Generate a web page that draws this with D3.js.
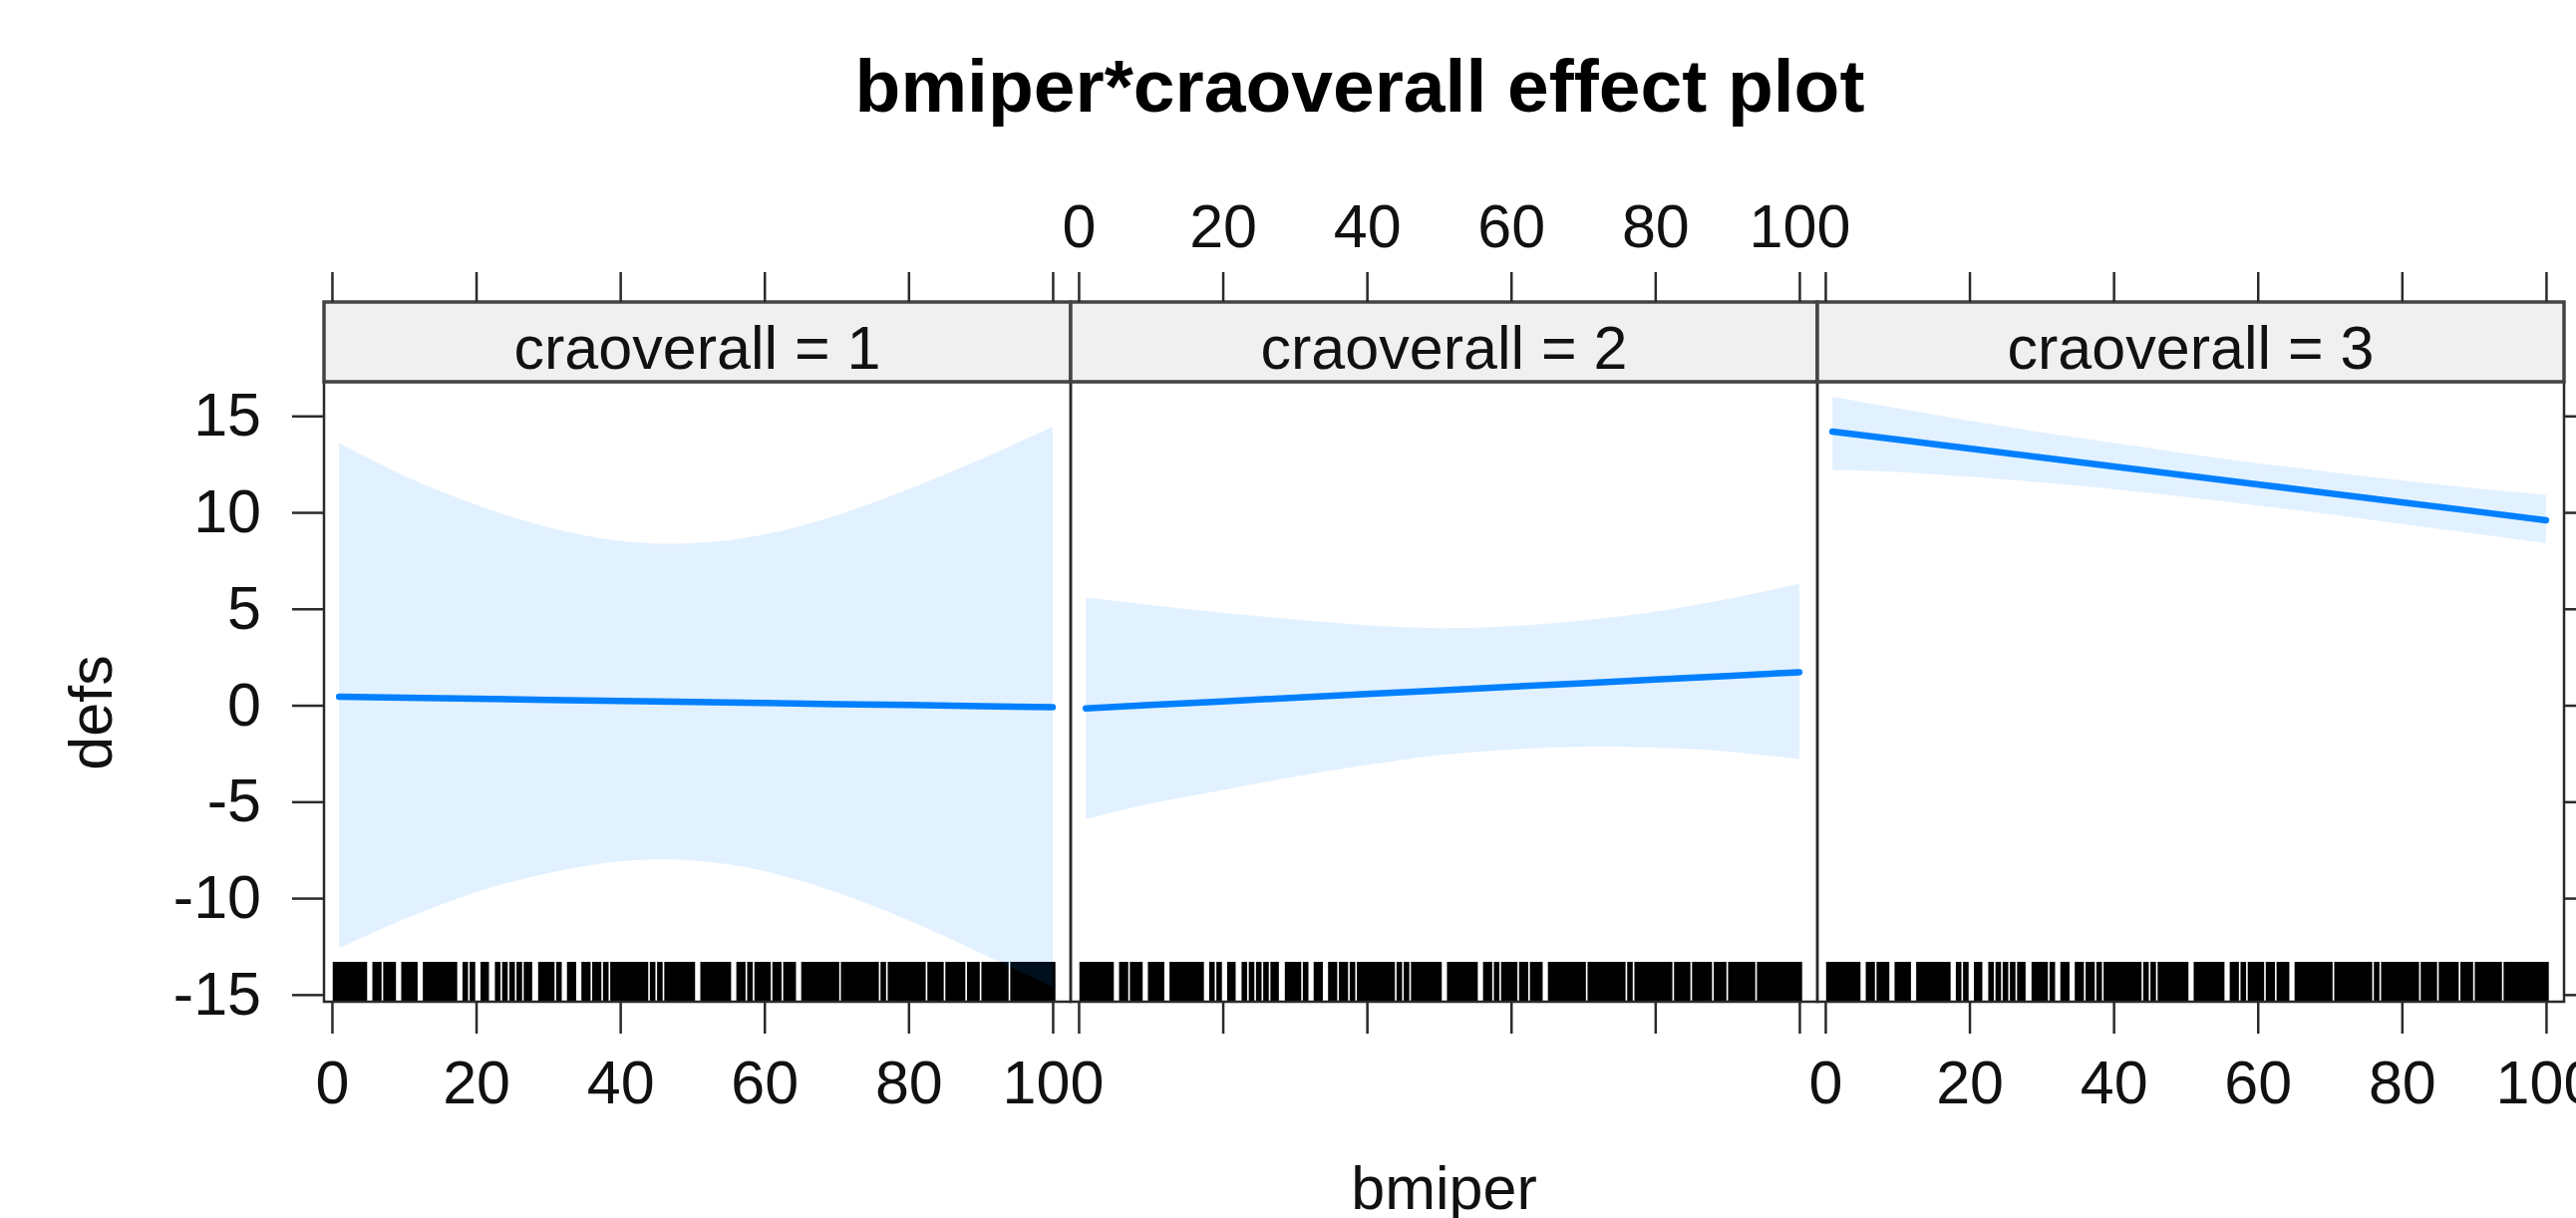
<!DOCTYPE html>
<html>
<head>
<meta charset="utf-8">
<script src="https://cdn.jsdelivr.net/npm/d3@7"></script>
<style>
  body { margin: 0; background: #fff; }
  svg { display: block; font-family: "Liberation Sans", Arial, sans-serif; }
</style>
</head>
<body>
<div id="chart"></div>
<script>
// Panels (levels of craoverall)
const panels = ['craoverall = 1', 'craoverall = 2', 'craoverall = 3'];

// bmiper values at which fit and band were read
const xs = [1, 10, 20, 30, 40, 50, 60, 70, 80, 90, 100];

// fitted defs per panel
const fit1 = [0.44, 0.39, 0.34, 0.28, 0.22, 0.17, 0.12, 0.06, 0.01, -0.05, -0.10];
const fit2 = [-0.16, 0.01, 0.20, 0.39, 0.58, 0.77, 0.96, 1.14, 1.33, 1.52, 1.71];
const fit3 = [14.19, 13.77, 13.31, 12.84, 12.38, 11.91, 11.45, 10.98, 10.52, 10.06, 9.59];

// confidence band per panel
const upper1 = [13.6, 11.9, 10.4, 9.22, 8.52, 8.4, 8.85, 9.85, 11.2, 12.75, 14.45];
const lower1 = [-12.6, -11.1, -9.7, -8.7, -8.1, -8.05, -8.6, -9.7, -11.15, -12.85, -14.6];
const upper2 = [5.6, 5.2, 4.8, 4.45, 4.15, 4.0, 4.1, 4.4, 4.85, 5.5, 6.3];
const lower2 = [-5.9, -5.1, -4.4, -3.7, -3.1, -2.6, -2.3, -2.15, -2.2, -2.4, -2.8];
const upper3 = [16.0, 15.4, 14.75, 14.15, 13.6, 13.05, 12.55, 12.1, 11.65, 11.25, 10.9];
const lower3 = [12.2, 12.1, 11.85, 11.55, 11.2, 10.8, 10.35, 9.9, 9.4, 8.9, 8.4];

// observed bmiper values (rug)
const rugValues = [
  0.5, 1, 1.5, 2, 2.5, 3, 3.5, 4, 4.5, 6, 6.5, 7.5, 8, 8.5, 10, 10.5, 11, 11.5,
  13, 13.5, 14, 14.5, 15, 15.5, 16, 16.5, 17, 18.5, 19.5, 21, 21.4, 23, 24, 25,
  26, 27, 27.4, 29, 29.5, 30, 30.5, 31.5, 33, 33.5, 35, 35.5, 36.5, 37, 38, 39,
  39.5, 40, 40.5, 41, 41.5, 42, 42.5, 43, 43.5, 44.5, 45.5, 46.5, 47, 47.5, 48,
  48.5, 49, 49.5, 50, 51.5, 52, 52.5, 53, 53.5, 54, 54.5, 55, 56.5, 57, 58, 59,
  59.5, 60, 60.5, 61.5, 62, 63, 63.5, 64, 65.5, 66, 66.5, 67, 67.5, 68, 68.5,
  69, 69.5, 70, 71, 71.5, 72, 72.5, 73, 73.5, 74, 74.5, 75, 75.5, 76.5, 77.5,
  78, 78.5, 79, 79.5, 80, 80.5, 81, 81.5, 82, 83, 83.5, 84, 84.5, 85.5, 86,
  86.5, 87, 87.5, 88.5, 89, 89.5, 90.5, 91, 91.5, 92, 92.5, 93, 93.5, 94.5, 95,
  95.5, 96, 96.5, 97, 97.5, 98, 98.5, 99, 99.5, 100
];

const xTicks = [0, 20, 40, 60, 80, 100];
const yTicks = [-15, -10, -5, 0, 5, 10, 15];

const fits = [fit1, fit2, fit3];
const uppers = [upper1, upper2, upper3];
const lowers = [lower1, lower2, lower3];

const width = 2584, height = 1222;
const lineColor = '#0080ff';
const axisColor = '#2a2a2a';
const fontFamily = '"Liberation Sans", Arial, sans-serif';

const panelLefts = [325, 1074, 1823];
const panelW = 749;
const stripTop = 303, stripBottom = 383, panelBottom = 1005;
const fontSize = 61;

// plain hyphen for negatives, like the original
const plain = d => String(d);
const blank = () => '';

const y = d3.scaleLinear().domain([-15.37, 16.77]).range([panelBottom, stripBottom]);

const svg = d3.select('#chart').append('svg')
  .attr('width', width)
  .attr('height', height)
  .attr('viewBox', [0, 0, width, height]);

svg.append('rect').attr('width', width).attr('height', height).attr('fill', '#fff');

// title
svg.append('text')
  .attr('x', 1364)
  .attr('y', 112)
  .attr('text-anchor', 'middle')
  .attr('font-size', 75)
  .attr('font-weight', 'bold')
  .text('bmiper*craoverall effect plot');

const rugTop = y.invert(panelBottom - 40);

const styleAxis = a => {
  a.select('.domain').remove();
  a.selectAll('line').attr('stroke', axisColor).attr('stroke-width', 2.5);
  a.selectAll('text').attr('font-size', fontSize).attr('fill', '#111').attr('font-family', fontFamily);
};

panels.forEach((label, i) => {
  const left = panelLefts[i];
  const x = d3.scaleLinear().domain([-1.1, 102.5]).range([left, left + panelW]);
  const g = svg.append('g');

  // rug
  g.append('g')
    .selectAll('line')
    .data(rugValues)
    .join('line')
    .attr('x1', d => x(d)).attr('x2', d => x(d))
    .attr('y1', y(rugTop)).attr('y2', panelBottom)
    .attr('stroke', '#000')
    .attr('stroke-width', 5.6);

  const rows = xs.map((v, k) => ({ x: v, fit: fits[i][k], lo: lowers[i][k], hi: uppers[i][k] }));

  // confidence band
  g.append('path')
    .datum(rows)
    .attr('d', d3.area()
      .x(d => x(d.x))
      .y0(d => y(d.lo))
      .y1(d => y(d.hi))
      .curve(d3.curveNatural))
    .attr('fill', lineColor)
    .attr('fill-opacity', 0.115);

  // fitted line
  g.append('path')
    .datum(rows)
    .attr('d', d3.line().x(d => x(d.x)).y(d => y(d.fit)))
    .attr('fill', 'none')
    .attr('stroke', lineColor)
    .attr('stroke-width', 6.5)
    .attr('stroke-linecap', 'round');

  // panel border
  g.append('rect')
    .attr('x', left).attr('y', stripBottom)
    .attr('width', panelW).attr('height', panelBottom - stripBottom)
    .attr('fill', 'none')
    .attr('stroke', axisColor)
    .attr('stroke-width', 2.5);

  // strip
  g.append('rect')
    .attr('x', left).attr('y', stripTop)
    .attr('width', panelW).attr('height', stripBottom - stripTop)
    .attr('fill', '#f0f0f0')
    .attr('stroke', '#444')
    .attr('stroke-width', 3.5);

  g.append('text')
    .attr('x', left + panelW / 2)
    .attr('y', stripBottom - 13)
    .attr('text-anchor', 'middle')
    .attr('font-size', fontSize)
    .attr('fill', '#111')
    .text(label);

  // bottom axis (labels on panels 1 and 3)
  g.append('g')
    .attr('transform', `translate(0,${panelBottom})`)
    .call(d3.axisBottom(x).tickValues(xTicks).tickSize(32).tickPadding(27)
      .tickFormat(i === 1 ? blank : plain))
    .call(styleAxis);

  // top axis (labels on panel 2)
  g.append('g')
    .attr('transform', `translate(0,${stripTop})`)
    .call(d3.axisTop(x).tickValues(xTicks).tickSize(30).tickPadding(25)
      .tickFormat(i === 1 ? plain : blank))
    .call(styleAxis);
});

// left y axis
svg.append('g')
  .attr('transform', `translate(${panelLefts[0]},0)`)
  .call(d3.axisLeft(y).tickValues(yTicks).tickSize(32).tickPadding(31).tickFormat(plain))
  .call(styleAxis);

// right y axis (ticks only)
svg.append('g')
  .attr('transform', `translate(${panelLefts[2] + panelW},0)`)
  .call(d3.axisRight(y).tickValues(yTicks).tickSize(32).tickFormat(blank))
  .call(styleAxis);

// axis titles
svg.append('text')
  .attr('x', panelLefts[0] + 1.5 * panelW)
  .attr('y', 1213)
  .attr('text-anchor', 'middle')
  .attr('font-size', fontSize)
  .attr('fill', '#111')
  .text('bmiper');

svg.append('text')
  .attr('transform', 'translate(112,715) rotate(-90)')
  .attr('text-anchor', 'middle')
  .attr('font-size', fontSize)
  .attr('fill', '#111')
  .text('defs');
</script>
</body>
</html>
